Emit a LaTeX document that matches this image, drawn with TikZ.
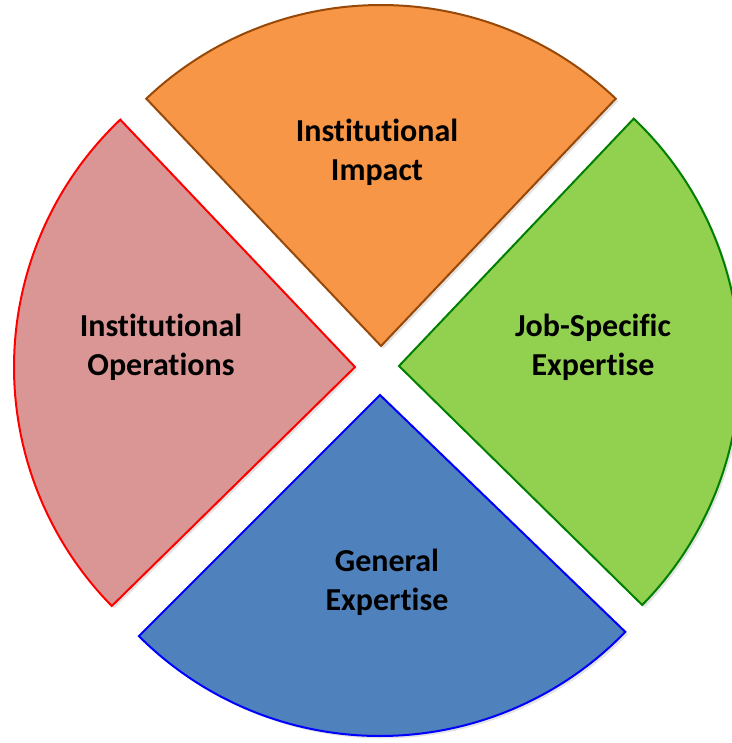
\documentclass[tikz,border=0pt]{standalone}
\usepackage{fontspec}
\setmainfont[Ligatures=NoCommon]{Carlito}
\usetikzlibrary{shadows}
\definecolor{orangefill}{HTML}{F79646}
\definecolor{orangeline}{HTML}{984807}
\definecolor{pinkfill}{HTML}{D99694}
\definecolor{pinkline}{HTML}{FF0000}
\definecolor{greenfill}{HTML}{92D050}
\definecolor{greenline}{HTML}{008000}
\definecolor{bluefill}{HTML}{4F81BD}
\definecolor{blueline}{HTML}{0000FF}
\tikzset{
  wedge/.style={line width=2pt, line join=miter,
    drop shadow={opacity=0.22, shadow xshift=2.5pt, shadow yshift=-2.5pt}},
  label/.style={font=\fontsize{32}{39}\selectfont\bfseries, align=center, text=black}
}
\begin{document}
\begin{tikzpicture}[x=1pt,y=1pt]
  \useasboundingbox (0,0) rectangle (731,743);
  \def\r{341}
  % four quarter wedges, each pushed out from the common centre
  \path[wedge, fill=orangefill, draw=orangeline]
    (381,397) -- ++(46.5:\r) arc[start angle=46.5, end angle=133.5, radius=\r] -- cycle;
  \path[wedge, fill=pinkfill, draw=pinkline]
    (355,376) -- ++(133.5:\r) arc[start angle=133.5, end angle=224.5, radius=\r] -- cycle;
  \path[wedge, fill=bluefill, draw=blueline]
    (380,348) -- ++(225:\r) arc[start angle=225, end angle=316, radius=\r] -- cycle;
  \path[wedge, fill=greenfill, draw=greenline]
    (399,377) -- ++(-44.5:\r) arc[start angle=-44.5, end angle=46.5, radius=\r] -- cycle;
  % labels
  \node[label] (impact) at (377,591) {Institutional\\Impact};
  \node[label] (ops) at (161,396) {Institutional\\Operations};
  \node[label] (job) at (593,396) {Job-Specific\\Expertise};
  \node[label] (gen) at (387,161) {General\\Expertise};
\end{tikzpicture}
\end{document}
